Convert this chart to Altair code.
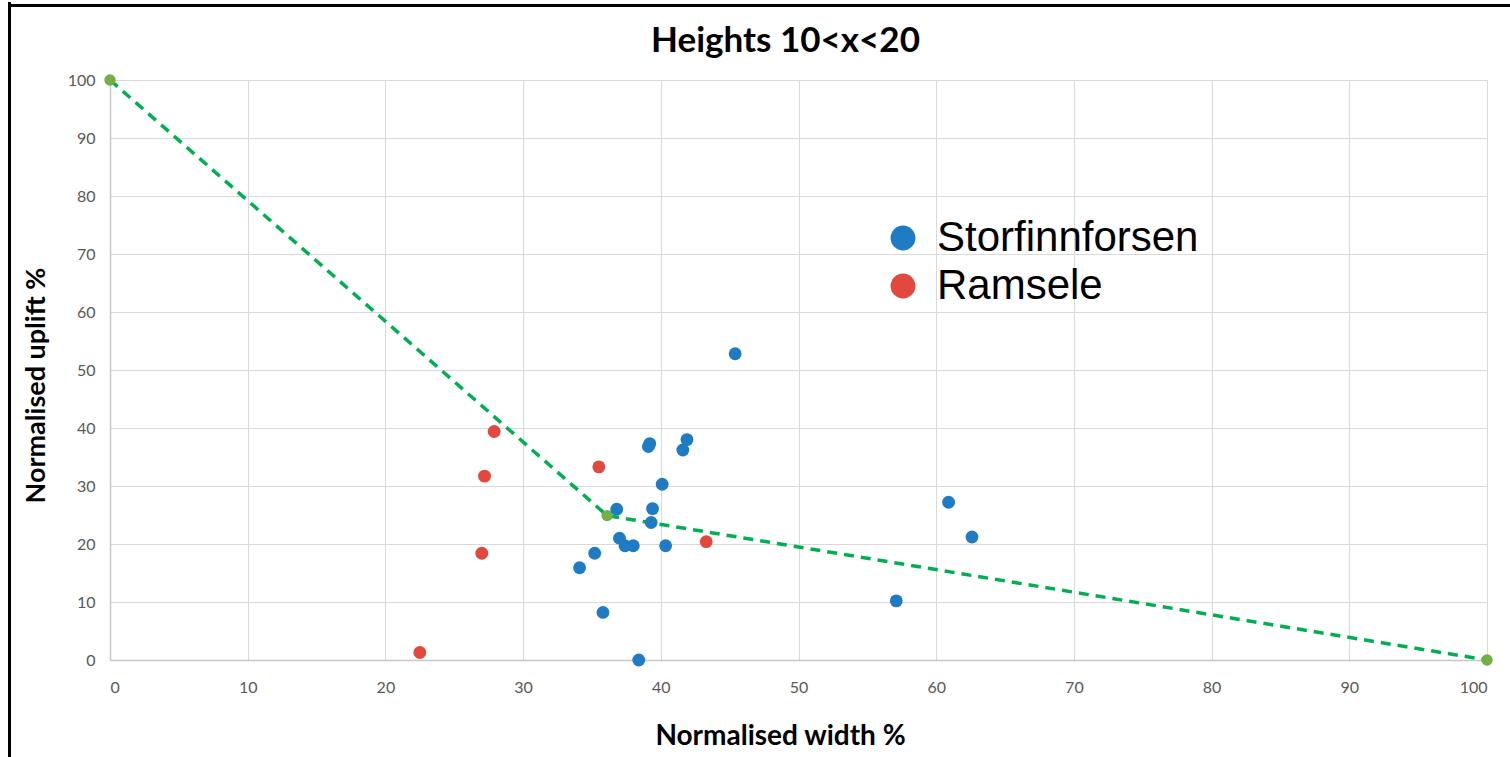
import altair as alt
import pandas as pd

# Data
stor_x = [34.1, 35.2, 35.8, 36.8, 37.0, 37.4, 38.0, 38.4, 39.1, 39.2, 39.4, 39.3, 40.1, 40.35, 41.6, 41.9, 45.4, 57.1, 60.9, 62.6]
stor_y = [15.9, 18.4, 8.2, 26.0, 21.0, 19.7, 19.7, 0.0, 36.8, 37.3, 26.1, 23.7, 30.3, 19.7, 36.2, 38.0, 52.8, 10.2, 27.2, 21.2]
ram_x = [22.5, 27.0, 27.2, 27.9, 35.5, 43.3]
ram_y = [1.3, 18.4, 31.7, 39.4, 33.3, 20.4]
line_x = [0, 36.1, 100]
line_y = [100, 24.9, 0]
series_names = ["Storfinnforsen", "Ramsele"]
series_colors = ["#1f7bc4", "#e2483e"]
ticks = list(range(0, 101, 10))

pts = pd.DataFrame({
    "x": stor_x + ram_x,
    "y": stor_y + ram_y,
    "series": [series_names[0]] * len(stor_x) + [series_names[1]] * len(ram_x),
})
line_df = pd.DataFrame({"x": line_x, "y": line_y})

W, H = 1377, 580
PL, PT, PR, PB = 110, 80, 23, 97

xenc = alt.X("x:Q", scale=alt.Scale(domain=[0, 100], nice=False, zero=False),
             axis=alt.Axis(values=ticks, title="Normalised width %", grid=True, ticks=False,
                           labelPadding=19, titleX=670, titleY=84, titleAlign="center",
                           titleBaseline="alphabetic", titleFontSize=28))
yenc = alt.Y("y:Q", scale=alt.Scale(domain=[0, 100], nice=False, zero=False),
             axis=alt.Axis(values=ticks, title="Normalised uplift %", grid=True, ticks=False,
                           labelPadding=15, titleX=-66, titleY=305, titleAngle=270,
                           titleAlign="center", titleBaseline="alphabetic", titleFontSize=27))

line = alt.Chart(line_df).mark_line(color="#00b050", strokeWidth=3.5, strokeDash=[10, 7]).encode(
    x=xenc, y=yenc)
green = alt.Chart(line_df).mark_circle(color="#72b043", size=130, opacity=1).encode(x="x:Q", y="y:Q")
scatter = alt.Chart(pts).mark_circle(size=165, opacity=1).encode(
    x="x:Q", y="y:Q",
    color=alt.Color("series:N", scale=alt.Scale(domain=series_names, range=series_colors),
                    legend=alt.Legend(orient="none", legendX=772, legendY=137, title=None,
                                      labelFontSize=42, labelFont="Liberation Sans",
                                      labelColor="black", labelLimit=600,
                                      symbolSize=620, symbolType="circle",
                                      symbolStrokeWidth=0, labelOffset=13, rowPadding=6,
                                      padding=0)),
)

frame_left = alt.Chart(alt.Data(values=[{}])).mark_rule(color="black", strokeWidth=3).encode(
    x=alt.value(-100.5), y=alt.value(-78), y2=alt.value(H + PB))
frame_top = alt.Chart(alt.Data(values=[{}])).mark_rule(color="black", strokeWidth=3).encode(
    x=alt.value(-102), x2=alt.value(W + PR), y=alt.value(-74.5))

chart = alt.layer(line, green, scatter, frame_left, frame_top).properties(
    width=W, height=H,
    background="white",
    autosize=alt.AutoSizeParams(type="none"),
    padding={"left": PL, "top": PT, "right": PR, "bottom": PB},
    title=alt.TitleParams("Heights 10<x<20", font="Lato", fontSize=35, fontWeight="bold",
                          color="black", anchor="middle", dx=-13, dy=58, offset=0),
).configure_view(stroke=None).configure_axis(
    gridColor="#d9d9d9", gridWidth=1, domainColor="#c8c8c8", domainWidth=1.5,
    labelFont="Lato", labelFontSize=16, labelColor="#595959",
    titleFont="Lato", titleFontWeight="bold", titleColor="black",
)

chart.save("out.html", embed_options={"renderer": "svg", "actions": False})
